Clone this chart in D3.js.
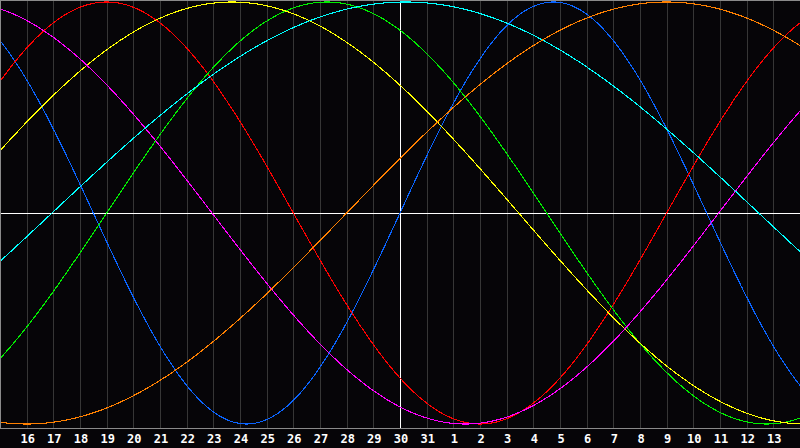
<!DOCTYPE html>
<html>
<head>
<meta charset="utf-8">
<script src="https://cdn.jsdelivr.net/npm/d3@7"></script>
<style>
  html, body { margin: 0; padding: 0; background: #060508; }
  svg { display: block; }
</style>
</head>
<body>
<svg id="chart" width="800" height="448"></svg>
<script>
// Day labels along the bottom (offset in days from the centre day "30")
const dayOffsets = [-14,-13,-12,-11,-10,-9,-8,-7,-6,-5,-4,-3,-2,-1,0,1,2,3,4,5,6,7,8,9,10,11,12,13,14];
const dayLabels  = ["16","17","18","19","20","21","22","23","24","25","26","27","28","29","30","31","1","2","3","4","5","6","7","8","9","10","11","12","13"];

// Cycles: period in days and the day offset of the peak
const cycleNames   = ["physical","emotional","intellectual","aesthetic","intuitive","awareness","spiritual"];
const cyclePeriods = [23, 28, 33, 43, 38, 53, 48];
const cyclePeaks   = [5.75, -11, -2.75, -6.3, -16.55, 0.2, 10];
const cycleColors  = ["#0a64ff", "#ff0000", "#00ee00", "#ffff00", "#ff00ff", "#00ffff", "#ff8000"];

const W = 800, H = 448, axisY = 428;
const svg = d3.select("#chart");

const x = d3.scaleLinear().domain([-15, 15]).range([0, 800]);
const y = d3.scaleLinear().domain([-1, 1]).range([424, 2]);

svg.append("rect").attr("width", W).attr("height", H).attr("fill", "#060508");

// vertical day grid
const gridDays = d3.range(-14, 15);
svg.append("g").selectAll("line").data(gridDays).join("line")
  .attr("x1", d => Math.round(x(d)) + 0.5).attr("x2", d => Math.round(x(d)) + 0.5)
  .attr("y1", 0).attr("y2", axisY)
  .attr("stroke", d => d === 0 ? "#ffffff" : "#363636")
  .attr("stroke-width", 1)
  .attr("shape-rendering", "crispEdges");

// horizontal centre line
svg.append("line")
  .attr("x1", 0).attr("x2", W)
  .attr("y1", Math.round(y(0)) + 0.5).attr("y2", Math.round(y(0)) + 0.5)
  .attr("stroke", "#ffffff").attr("shape-rendering", "crispEdges");

// curves
const samples = d3.range(-15, 15.001, 0.05);
const line = d3.line().x(p => x(p[0])).y(p => y(p[1]));
cyclePeriods.forEach((P, i) => {
  const pts = samples.map(d => [d, Math.cos(2 * Math.PI * (d - cyclePeaks[i]) / P)]);
  svg.append("path")
    .attr("d", line(pts))
    .attr("fill", "none")
    .attr("stroke", cycleColors[i])
    .attr("stroke-width", 1.1)
    .attr("shape-rendering", "crispEdges");
});

// border: top, left, bottom axis
svg.append("line").attr("x1", 0).attr("x2", W).attr("y1", 0.5).attr("y2", 0.5)
  .attr("stroke", "#8a8a8a").attr("shape-rendering", "crispEdges");
svg.append("line").attr("x1", 0.5).attr("x2", 0.5).attr("y1", 0).attr("y2", axisY)
  .attr("stroke", "#8a8a8a").attr("shape-rendering", "crispEdges");
svg.append("line").attr("x1", 0).attr("x2", W).attr("y1", axisY + 0.5).attr("y2", axisY + 0.5)
  .attr("stroke", "#8a8a8a").attr("shape-rendering", "crispEdges");

// labels
svg.append("g").selectAll("text").data(dayOffsets).join("text")
  .attr("x", d => x(d) + 1)
  .attr("y", 443)
  .attr("text-anchor", "middle")
  .attr("fill", "#ffffff")
  .attr("font-family", "DejaVu Sans Mono, monospace")
  .attr("font-weight", "bold")
  .attr("font-size", "12px")
  .text((d, i) => dayLabels[i]);
</script>
</body>
</html>
